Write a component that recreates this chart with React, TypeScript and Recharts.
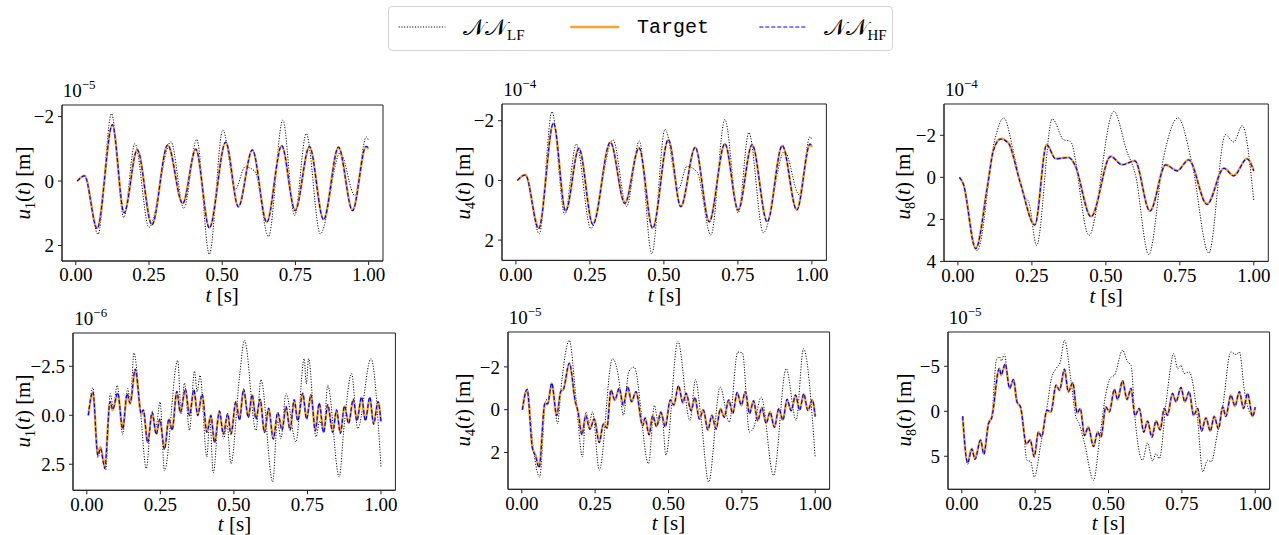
import React from 'react';
import { LineChart, Line, XAxis, YAxis, ReferenceArea } from 'recharts';

// ---------- Panel 1: u1(t), x1e-5 ----------
const p1T = [0.005, 0.03, 0.073, 0.125, 0.165, 0.21, 0.26, 0.314, 0.365, 0.41, 0.456, 0.512, 0.555, 0.603, 0.652, 0.703, 0.749, 0.798, 0.846, 0.897, 0.945, 0.991, 1.0];
const p1Target = [0, -0.17, 1.45, -1.73, 0.97, -0.98, 1.34, -1.11, 0.69, -0.98, 1.44, -1.2, 0.79, -0.96, 1.26, -1.09, 0.9, -1.06, 1.18, -1.04, 0.9, -1.06, -1.0];
const p1HF = [0, -0.16, 1.48, -1.75, 0.99, -0.97, 1.36, -1.12, 0.7, -0.99, 1.46, -1.21, 0.8, -0.97, 1.28, -1.1, 0.92, -1.07, 1.2, -1.05, 0.92, -1.08, -1.02];
const p1LFt = [0.005, 0.03, 0.076, 0.122, 0.164, 0.202, 0.25, 0.325, 0.369, 0.413, 0.456, 0.502, 0.545, 0.578, 0.612, 0.658, 0.707, 0.747, 0.787, 0.835, 0.903, 0.953, 0.992, 1.0];
const p1LF = [0, -0.15, 1.65, -2.09, 1.13, -1.16, 1.44, -1.22, 0.85, -1.29, 2.27, -1.58, 0.25, -0.44, -0.3, 1.72, -1.89, 1.07, -1.47, 1.64, -0.88, 0.45, -1.37, -1.25];
const p1Ticks = [-2, 0, 2];

// ---------- Panel 2: u4(t), x1e-4 ----------
const p2T = [0.005, 0.032, 0.077, 0.127, 0.168, 0.213, 0.26, 0.319, 0.368, 0.416, 0.462, 0.515, 0.557, 0.606, 0.653, 0.706, 0.751, 0.798, 0.849, 0.9, 0.949, 0.994, 1.0];
const p2Target = [0, -0.19, 1.59, -1.91, 1.01, -1.08, 1.46, -1.27, 0.76, -1.08, 1.59, -1.36, 0.87, -1.1, 1.37, -1.22, 0.98, -1.19, 1.37, -1.16, 0.98, -1.21, -1.11];
const p2HF = [0, -0.18, 1.62, -1.93, 1.03, -1.07, 1.48, -1.28, 0.77, -1.09, 1.61, -1.37, 0.88, -1.11, 1.39, -1.23, 1.0, -1.2, 1.39, -1.17, 1.0, -1.22, -1.12];
const p2LFt = [0.005, 0.032, 0.079, 0.122, 0.165, 0.204, 0.253, 0.328, 0.374, 0.417, 0.459, 0.504, 0.549, 0.578, 0.612, 0.659, 0.706, 0.751, 0.787, 0.836, 0.908, 0.957, 0.994, 1.0];
const p2LF = [0, -0.17, 1.79, -2.3, 1.14, -1.22, 1.61, -1.36, 0.87, -1.32, 2.46, -1.71, 0.28, -0.47, -0.28, 1.83, -2.04, 1.09, -1.6, 1.76, -0.98, 0.48, -1.47, -1.35];
const p2Ticks = [-2, 0, 2];

// ---------- Panel 3: u8(t), x1e-4 ----------
const p3T = [0.005, 0.018, 0.06, 0.1, 0.12, 0.145, 0.17, 0.21, 0.26, 0.3, 0.33, 0.375, 0.395, 0.45, 0.516, 0.555, 0.598, 0.649, 0.702, 0.741, 0.78, 0.842, 0.899, 0.932, 0.977, 1.0];
const p3Target = [0, 0.3, 3.37, 0.4, -1.3, -1.84, -1.65, 0.2, 2.25, -1.56, -0.89, -0.95, -0.6, 1.86, -1.0, -0.6, -0.79, 1.59, -0.6, -0.32, -0.84, 1.27, -0.44, -0.08, -0.89, -0.32];
const p3HF = [0, 0.31, 3.4, 0.42, -1.28, -1.82, -1.64, 0.22, 2.27, -1.55, -0.88, -0.94, -0.6, 1.88, -0.99, -0.6, -0.78, 1.61, -0.59, -0.31, -0.83, 1.29, -0.43, -0.07, -0.88, -0.3];
const p3LFt = [0.005, 0.018, 0.065, 0.126, 0.155, 0.19, 0.222, 0.24, 0.266, 0.319, 0.357, 0.38, 0.443, 0.527, 0.571, 0.6, 0.645, 0.696, 0.744, 0.792, 0.848, 0.904, 0.932, 0.961, 1.0];
const p3LF = [0, 0.3, 3.49, -1.87, -2.83, -1.08, 0.85, 1.2, 3.24, -2.78, -1.79, -1.71, 2.76, -3.14, -1.24, -0.13, 3.68, -1.0, -2.83, -0.6, 3.6, -2.03, -1.68, -2.46, 1.11];
const p3Ticks = [-2, 0, 2, 4];

// ---------- Panel 4: u1(t), x1e-6 ----------
const p4T = [0.005, 0.0206, 0.0375, 0.0465, 0.061, 0.079, 0.088, 0.105, 0.122, 0.137, 0.147, 0.165, 0.185, 0.192, 0.207, 0.222, 0.236, 0.248, 0.264, 0.279, 0.29, 0.306, 0.318, 0.335, 0.349, 0.364, 0.377, 0.392, 0.408, 0.422, 0.434, 0.451, 0.464, 0.479, 0.49, 0.507, 0.519, 0.533, 0.549, 0.562, 0.575, 0.589, 0.604, 0.618, 0.634, 0.649, 0.664, 0.677, 0.691, 0.705, 0.717, 0.734, 0.747, 0.762, 0.777, 0.79, 0.805, 0.819, 0.836, 0.849, 0.862, 0.876, 0.89, 0.906, 0.918, 0.934, 0.947, 0.962, 0.975, 0.99, 1.0];
const p4Target = [0, -1.14, 1.96, 1.62, 2.6, -0.68, -0.26, -1.1, 0.68, -1.07, -0.6, -2.33, -0.05, -0.25, 1.36, -0.12, 0.94, 0.22, 1.7, 0.2, 0.73, -1.19, -0.12, -1.31, 0, -1.28, 0, -1.05, 0.85, 0, 1.36, -0.17, 0.94, -0.05, 0.94, -0.68, 0.22, -1.31, 0.09, -1.02, 0.17, -0.8, 0.85, -0.34, 1.19, -0.12, 0.73, -0.43, 0.73, -0.77, 0.26, -1.1, 0.17, -1.02, 0.77, -0.6, 0.85, -0.51, 0.85, -0.26, 0.9, -0.46, 0.39, -0.8, 0.26, -0.9, 0.26, -0.9, 0.43, -0.68, 0.34];
const p4HF = [0, -1.2, 2.05, 1.7, 2.7, -0.7, -0.3, -1.15, 0.7, -1.1, -0.62, -2.36, -0.1, -0.28, 1.4, -0.15, 0.98, 0.2, 1.75, 0.18, 0.76, -1.22, -0.14, -1.34, 0.02, -1.3, 0.02, -1.08, 0.88, 0.02, 1.4, -0.2, 0.97, -0.08, 0.97, -0.7, 0.25, -1.34, 0.12, -1.05, 0.2, -0.83, 0.88, -0.36, 1.22, -0.14, 0.76, -0.45, 0.76, -0.8, 0.28, -1.13, 0.2, -1.05, 0.8, -0.62, 0.88, -0.54, 0.88, -0.28, 0.93, -0.48, 0.42, -0.83, 0.28, -0.93, 0.28, -0.93, 0.46, -0.7, 0.36];
const p4LFt = [0.005, 0.021, 0.0375, 0.047, 0.064, 0.08, 0.09, 0.103, 0.122, 0.139, 0.148, 0.16, 0.182, 0.202, 0.222, 0.235, 0.249, 0.264, 0.309, 0.321, 0.332, 0.349, 0.366, 0.375, 0.385, 0.408, 0.418, 0.43, 0.451, 0.465, 0.477, 0.49, 0.519, 0.536, 0.575, 0.592, 0.632, 0.648, 0.66, 0.677, 0.711, 0.739, 0.746, 0.754, 0.779, 0.792, 0.805, 0.819, 0.858, 0.875, 0.9, 0.921, 0.966, 1.0];
const p4LF = [0, -1.41, 2.16, 1.8, 2.8, -1.1, -0.4, -1.53, 0.97, -1.36, -0.6, -3.18, -0.3, 2.72, -0.2, 0.6, -0.68, 2.84, -2.8, -0.08, -1.65, 0.77, -2.26, -1.2, -2.04, 2.13, 0.2, 2.94, -0.26, 1.2, 0.5, 2.47, -1.96, -3.83, 0.77, -1.82, 3.4, 0.3, 1.2, -1.1, 1.36, -2.89, -1.6, -2.89, 1.1, 0.3, 0.9, -1.53, 3.15, 0.5, -2.13, 0.68, -2.89, 2.64];
const p4Ticks = [-2.5, 0, 2.5];

// ---------- Panel 5: u4(t), x1e-5 ----------
const p5T = [0.002, 0.018, 0.036, 0.047, 0.059, 0.079, 0.088, 0.102, 0.119, 0.133, 0.142, 0.162, 0.182, 0.192, 0.205, 0.218, 0.232, 0.247, 0.264, 0.278, 0.29, 0.304, 0.317, 0.332, 0.346, 0.361, 0.374, 0.389, 0.412, 0.42, 0.434, 0.446, 0.459, 0.474, 0.489, 0.506, 0.518, 0.534, 0.549, 0.56, 0.577, 0.59, 0.605, 0.619, 0.634, 0.648, 0.662, 0.677, 0.69, 0.705, 0.719, 0.734, 0.748, 0.762, 0.776, 0.79, 0.804, 0.818, 0.833, 0.846, 0.861, 0.876, 0.89, 0.904, 0.918, 0.933, 0.947, 0.961, 0.975, 0.99, 1.0];
const p5Target = [0, -0.93, 1.74, 2.13, 2.65, -0.3, -0.25, -1.21, 0.26, -0.85, -0.95, -2.15, -0.4, 0.1, 1.15, 0.26, 0.89, 0.42, 1.51, 0.65, 0.84, -0.9, -0.44, -0.98, -0.2, -1.06, -0.36, -0.83, 0.73, 0.37, 1.15, 0.26, 0.78, 0.11, 0.78, -0.44, -0.2, -1.1, -0.31, -0.75, 0.03, -0.56, 0.42, 0, 0.93, 0.26, 0.89, -0.05, 0.34, -0.44, 0.16, -0.79, -0.2, -0.83, 0.16, -0.4, 0.5, -0.09, 0.62, 0.11, 0.81, -0.05, 0.47, -0.47, 0.03, -0.67, 0, -0.72, 0.03, -0.44, 0.31];
const p5HF = [0, -0.95, 1.78, 2.18, 2.72, -0.32, -0.27, -1.24, 0.28, -0.87, -0.97, -2.18, -0.42, 0.12, 1.18, 0.28, 0.92, 0.44, 1.54, 0.67, 0.86, -0.92, -0.46, -1.0, -0.22, -1.08, -0.38, -0.85, 0.75, 0.39, 1.18, 0.28, 0.8, 0.13, 0.8, -0.46, -0.22, -1.12, -0.33, -0.77, 0.05, -0.58, 0.44, 0.02, 0.95, 0.28, 0.91, -0.03, 0.36, -0.46, 0.18, -0.81, -0.22, -0.85, 0.18, -0.42, 0.52, -0.1, 0.64, 0.12, 0.83, -0.06, 0.49, -0.49, 0.05, -0.69, 0.02, -0.74, 0.05, -0.46, 0.33];
const p5LFt = [0.002, 0.018, 0.04, 0.061, 0.082, 0.09, 0.102, 0.122, 0.133, 0.162, 0.185, 0.207, 0.218, 0.23, 0.241, 0.264, 0.309, 0.33, 0.346, 0.365, 0.383, 0.432, 0.452, 0.465, 0.478, 0.491, 0.532, 0.573, 0.592, 0.611, 0.637, 0.676, 0.707, 0.736, 0.752, 0.776, 0.79, 0.816, 0.858, 0.901, 0.935, 0.96, 1.0];
const p5LF = [0, -0.98, 1.9, 3.15, -0.44, -0.5, -1.25, 0.65, -0.9, -3.24, -0.5, 2.21, 0.11, 0.6, 0.1, 2.83, -2.38, -1.5, 0.26, -1.8, -1.99, 2.52, -0.2, 0.6, 0.3, 2.13, -3.2, 0.5, -1.4, 0.42, 3.38, -1.06, 0.58, -2.69, -2.65, 1.04, 0.84, -0.59, 3.07, -1.92, 0.5, -2.85, 2.24];
const p5Ticks = [-2, 0, 2];

// ---------- Panel 6: u8(t), x1e-5 ----------
const p6T = [0.003, 0.02, 0.034, 0.045, 0.064, 0.075, 0.091, 0.102, 0.128, 0.134, 0.148, 0.163, 0.176, 0.188, 0.2, 0.22, 0.233, 0.247, 0.261, 0.272, 0.29, 0.304, 0.321, 0.333, 0.35, 0.363, 0.378, 0.393, 0.404, 0.418, 0.431, 0.449, 0.463, 0.474, 0.491, 0.503, 0.52, 0.531, 0.548, 0.563, 0.577, 0.59, 0.605, 0.62, 0.633, 0.648, 0.662, 0.676, 0.69, 0.701, 0.718, 0.73, 0.747, 0.76, 0.775, 0.79, 0.804, 0.817, 0.832, 0.847, 0.86, 0.875, 0.889, 0.9, 0.917, 0.931, 0.946, 0.96, 0.974, 0.991, 1.0];
const p6Target = [0.56, 5.63, 4.15, 5.26, 3.15, 4.7, 1.37, 0.7, -4.74, -4.0, -5.22, -2.52, -3.52, -1.04, -0.48, 3.6, 3.15, 5.0, 2.3, 2.8, -0.11, 0.07, -2.89, -2.33, -4.63, -2.15, -3.15, 0.19, -0.3, 2.67, 1.74, 3.89, 2.3, 2.85, -0.48, 0.07, -2.41, -1.3, -3.37, -1.3, -2.52, 0.44, -0.3, 2.3, 1.07, 2.85, 1.07, 2.04, -0.3, 0.44, -1.96, -1.04, -2.63, -1.04, -2.15, 0.44, -0.3, 2.19, 0.7, 2.19, 0.56, 1.93, -0.48, 0.56, -1.78, -0.56, -2.15, -0.3, -1.96, 0.56, -0.48];
const p6HF = [0.56, 5.75, 4.2, 5.35, 3.2, 4.78, 1.4, 0.72, -4.78, -4.05, -5.26, -2.55, -3.55, -1.06, -0.5, 3.65, 3.2, 5.06, 2.33, 2.84, -0.12, 0.06, -2.92, -2.36, -4.68, -2.18, -3.18, 0.18, -0.32, 2.7, 1.76, 3.94, 2.33, 2.88, -0.5, 0.06, -2.44, -1.32, -3.4, -1.32, -2.55, 0.46, -0.32, 2.33, 1.09, 2.88, 1.09, 2.07, -0.32, 0.46, -1.98, -1.06, -2.66, -1.06, -2.18, 0.46, -0.32, 2.22, 0.72, 2.22, 0.58, 1.96, -0.5, 0.58, -1.8, -0.58, -2.18, -0.32, -1.98, 0.58, -0.46];
const p6LFt = [0.003, 0.02, 0.034, 0.045, 0.064, 0.075, 0.091, 0.102, 0.118, 0.128, 0.135, 0.145, 0.163, 0.176, 0.19, 0.205, 0.222, 0.235, 0.247, 0.27, 0.293, 0.304, 0.321, 0.335, 0.35, 0.372, 0.389, 0.4, 0.418, 0.449, 0.47, 0.491, 0.509, 0.52, 0.548, 0.565, 0.577, 0.59, 0.616, 0.633, 0.65, 0.662, 0.673, 0.696, 0.707, 0.722, 0.736, 0.747, 0.758, 0.775, 0.804, 0.821, 0.838, 0.85, 0.872, 0.889, 0.917, 0.935, 0.946, 0.963, 0.98, 0.991, 1.0];
const p6LF = [0.56, 5.9, 4.3, 5.4, 3.2, 4.8, 1.2, 0.5, -5.7, -6.04, -5.6, -6.33, -2.6, -3.6, -1.04, 0.2, 5.44, 5.6, 7.3, 3.5, -1.0, -3.44, -4.74, -5.4, -7.89, -3.44, 0.63, 1.37, 3.5, 7.67, 3.0, -1.96, -3.81, -4.0, -6.78, -5.5, -5.11, 0.63, 5.44, 3.52, 5.52, 4.7, 5.26, -0.85, -3.81, -6.41, -4.74, -5.11, -4.19, -4.37, 1.0, 6.74, 5.44, 5.6, 2.3, -0.48, -6.59, -6.3, -6.59, -2.33, 0.07, 0.56, -0.3];
const p6Ticks = [-5, 0, 5];

const xTicks = [0, 0.25, 0.5, 0.75, 1.0];
const xDom: [number, number] = [-0.047, 1.049];

const pts = (t: number[], v: number[]) => t.map((x, i) => ({ t: x, v: v[i] }));

type Panel = {
  x: number; y: number; w: number; h: number;
  dom: [number, number]; ticks: number[]; dec: number;
  sub: string; exp: string; ylabX: number;
  target: any[]; hf: any[]; lf: any[];
};

const panels: Panel[] = [
  { x: 61.7, y: 105, w: 321, h: 156, dom: [-2.36, 2.48], ticks: p1Ticks, dec: 0, sub: '1', exp: '−5', ylabX: 23.5, target: pts(p1T, p1Target), hf: pts(p1T, p1HF), lf: pts(p1LFt, p1LF) },
  { x: 502.3, y: 104.3, w: 324.4, h: 156.4, dom: [-2.56, 2.68], ticks: p2Ticks, dec: 0, sub: '4', exp: '−4', ylabX: 463.5, target: pts(p2T, p2Target), hf: pts(p2T, p2HF), lf: pts(p2LFt, p2LF) },
  { x: 944, y: 104.3, w: 324.3, h: 157.4, dom: [-3.49, 4.0], ticks: p3Ticks, dec: 0, sub: '8', exp: '−4', ylabX: 903.5, target: pts(p3T, p3Target), hf: pts(p3T, p3HF), lf: pts(p3LFt, p3LF) },
  { x: 73.3, y: 332.7, w: 322.4, h: 157.3, dom: [-4.2, 3.83], ticks: p4Ticks, dec: 1, sub: '1', exp: '−6', ylabX: 23.5, target: pts(p4T, p4Target), hf: pts(p4T, p4HF), lf: pts(p4LFt, p4LF) },
  { x: 507.7, y: 331.7, w: 321.6, h: 157.3, dom: [-3.63, 3.72], ticks: p5Ticks, dec: 0, sub: '4', exp: '−5', ylabX: 464, target: pts(p5T, p5Target), hf: pts(p5T, p5HF), lf: pts(p5LFt, p5LF) },
  { x: 947.7, y: 331.7, w: 321.6, h: 157.3, dom: [-8.81, 8.67], ticks: p6Ticks, dec: 0, sub: '8', exp: '−5', ylabX: 905, target: pts(p6T, p6Target), hf: pts(p6T, p6HF), lf: pts(p6LFt, p6LF) },
];

const SERIF = "'Liberation Serif', 'Times New Roman', Times, serif";
const ORANGE = '#F2A530';
const BLUE = '#0000FF';
const FRAME = '#222';
const LFCOL = '#000';
const FS = 19;

const fmt = (dec: number) => (v: number) => (v < 0 ? '−' : '') + Math.abs(v).toFixed(dec);

const L = 70, T = 30, R = 10, B = 45;

function PanelChart({ p }: { p: Panel }) {
  const tickStyle = { fontSize: FS, fill: '#000', fontFamily: SERIF };
  return (
    <>
      <div style={{ position: 'absolute', left: p.x - L, top: p.y - T }}>
        <LineChart width={p.w + L + R} height={p.h + T + B} margin={{ top: T, right: R, left: 0, bottom: 0 }} style={{ fontFamily: SERIF }}>
          <XAxis type="number" dataKey="t" domain={xDom} allowDataOverflow ticks={xTicks}
            tickFormatter={(v: number) => v.toFixed(2)} height={B} tickSize={4} tickMargin={3}
            stroke={FRAME} tick={tickStyle} interval={0} />
          <YAxis type="number" domain={p.dom} allowDataOverflow reversed ticks={p.ticks} width={L}
            tickFormatter={fmt(p.dec)} tickSize={4} tickMargin={4} stroke={FRAME} tick={tickStyle} interval={0} />
          <Line data={p.lf} dataKey="v" type="monotone" stroke={LFCOL} strokeWidth={1} strokeDasharray="1.1 1.6" dot={false} activeDot={false} isAnimationActive={false} />
          <Line data={p.target} dataKey="v" type="monotone" stroke={ORANGE} strokeWidth={2.4} dot={false} activeDot={false} isAnimationActive={false} />
          <Line data={p.hf} dataKey="v" type="monotone" stroke={BLUE} strokeWidth={1.2} strokeDasharray="4 2" dot={false} activeDot={false} isAnimationActive={false} />
          <ReferenceArea x1={xDom[0]} x2={xDom[1]} y1={p.dom[0]} y2={p.dom[1]} ifOverflow="visible" fill="none" fillOpacity={0} stroke={FRAME} strokeWidth={1} />
        </LineChart>
      </div>
      {/* exponent */}
      <div style={{ position: 'absolute', left: p.x + 1, top: p.y - 24, fontFamily: SERIF, fontSize: FS, lineHeight: '20px', whiteSpace: 'nowrap' }}>
        10<span style={{ fontSize: 13, position: 'relative', top: -8 }}>{p.exp}</span>
      </div>
      {/* y label */}
      <div style={{ position: 'absolute', left: p.ylabX, top: p.y + p.h / 2, transform: 'translate(-50%, -50%) rotate(-90deg)', fontFamily: SERIF, fontSize: 21, lineHeight: '24px', whiteSpace: 'nowrap' }}>
        <i>u</i><span style={{ fontSize: 14, position: 'relative', top: 5 }}>{p.sub}</span>(<i>t</i>) [m]
      </div>
      {/* x label */}
      <div style={{ position: 'absolute', left: p.x + p.w / 2, top: p.y + p.h + 34, transform: 'translate(-50%, -50%)', fontFamily: SERIF, fontSize: 21, lineHeight: '20px', whiteSpace: 'nowrap' }}>
        <i>t</i> [s]
      </div>
    </>
  );
}

function Legend() {
  const txt = { position: 'absolute' as const, top: 21, transform: 'translateY(-50%)', whiteSpace: 'nowrap' as const, lineHeight: '28px' };
  const nn = (s: string) => (
    <span style={{ fontFamily: "'DejaVu Serif', 'DejaVu Sans', serif", fontSize: 23 }}>
      𝒩𝒩<span style={{ fontFamily: SERIF, fontSize: 15, position: 'relative', top: 5 }}>{s}</span>
    </span>
  );
  return (
    <div style={{ position: 'absolute', left: 388, top: 6, width: 503, height: 43, border: '1px solid #d4d4d4', borderRadius: 4, background: '#fff' }}>
      <svg style={{ position: 'absolute', left: 0, top: 0 }} width={503} height={43}>
        <line x1={9.7} x2={56.3} y1={20} y2={20} stroke={LFCOL} strokeWidth={1} strokeDasharray="1.1 1.6" />
        <line x1={181.3} x2={230.3} y1={20} y2={20} stroke={ORANGE} strokeWidth={2.4} />
        <line x1={370.3} x2={417.7} y1={20} y2={20} stroke={BLUE} strokeWidth={1.2} strokeDasharray="4 2" />
      </svg>
      <div style={{ ...txt, left: 74 }}>{nn('LF')}</div>
      <div style={{ ...txt, left: 248, fontFamily: "'Liberation Mono', monospace", fontSize: 20 }}>Target</div>
      <div style={{ ...txt, left: 434.5 }}>{nn('HF')}</div>
    </div>
  );
}

export default function App() {
  return (
    <div style={{ position: 'absolute', left: 0, top: 0, width: 1279, height: 535, background: '#fff', overflow: 'hidden' }}>
      <Legend />
      {panels.map((p, i) => <PanelChart key={i} p={p} />)}
    </div>
  );
}
